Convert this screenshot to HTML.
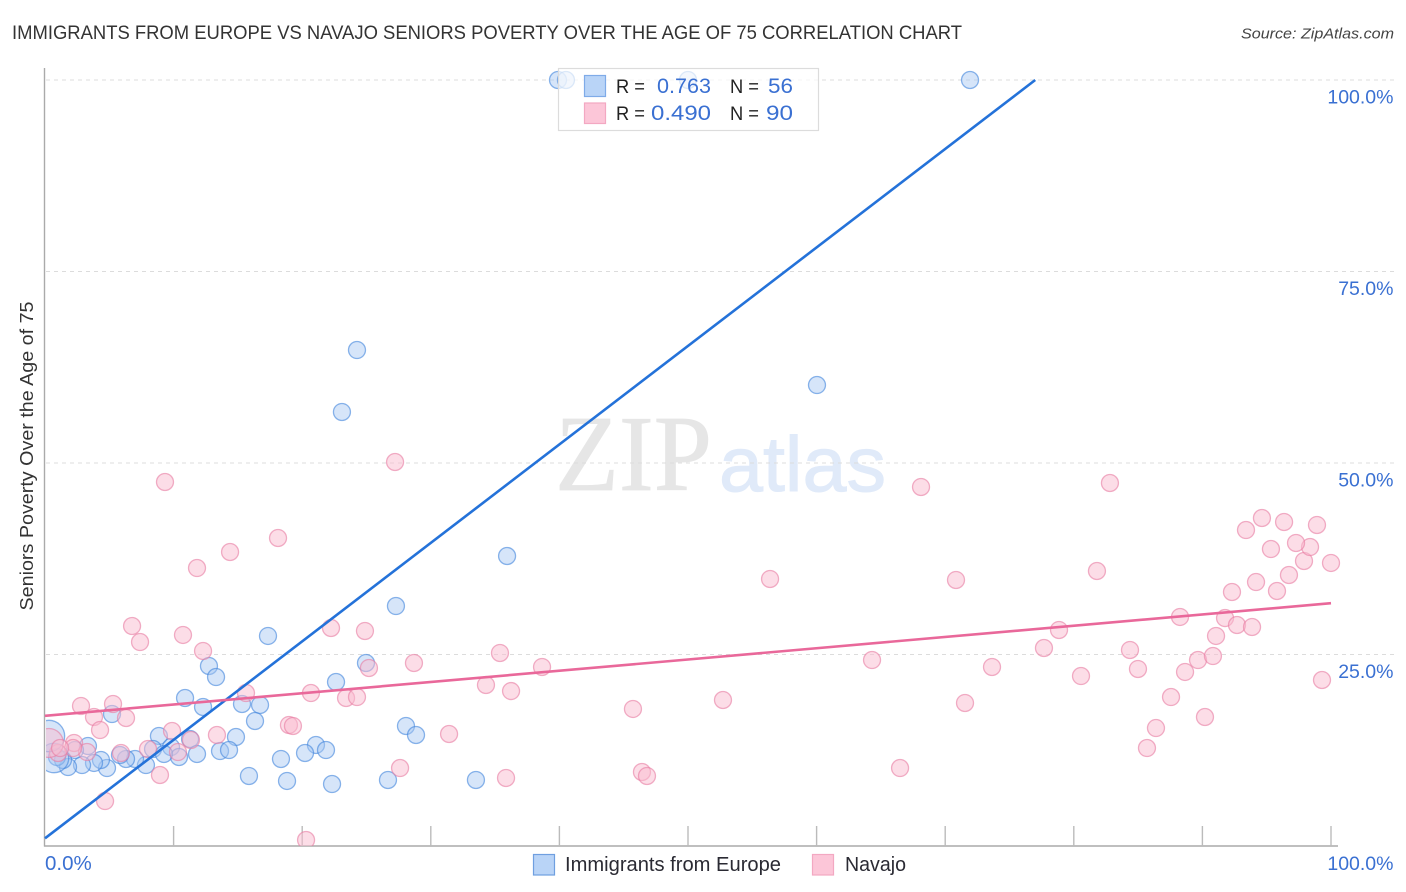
<!DOCTYPE html>
<html lang="en">
<head>
<meta charset="utf-8">
<title>Immigrants from Europe vs Navajo Seniors Poverty Correlation Chart</title>
<style>
html,body{margin:0;padding:0;background:#fff;}
svg{display:block;font-family:"Liberation Sans",sans-serif;}
</style>
</head>
<body>
<svg id="chart" xmlns="http://www.w3.org/2000/svg" width="1406" height="892" viewBox="0 0 1406 892">
  <defs>
    <clipPath id="plot-clip"><rect x="46" y="60" width="1300" height="786"></rect></clipPath>
  </defs>
  <text x="12" y="39" font-size="19.5" fill="#333" textLength="950" lengthAdjust="spacingAndGlyphs">IMMIGRANTS FROM EUROPE VS NAVAJO SENIORS POVERTY OVER THE AGE OF 75 CORRELATION CHART</text>
  <text x="1394" y="38.5" font-size="15" font-style="italic" fill="#444" text-anchor="end" textLength="153" lengthAdjust="spacingAndGlyphs">Source: ZipAtlas.com</text>

  <g id="watermark">
    <text x="555" y="490" font-family="'Liberation Serif',serif" font-size="108" fill="#e6e6e6" stroke="#e6e6e6" stroke-width="0.8" textLength="157" lengthAdjust="spacingAndGlyphs">ZIP</text>
    <text x="719" y="491" font-size="78" fill="#e0eaf9" stroke="#e0eaf9" stroke-width="1" textLength="167" lengthAdjust="spacingAndGlyphs">atlas</text>
  </g>

  <g id="grid"></g>
  <g id="axes"></g>
  <g id="points-blue" clip-path="url(#plot-clip)"></g>
  <g id="points-pink" clip-path="url(#plot-clip)"></g>
  <g id="trend-lines"></g>
  <g id="tick-labels"></g>

  <text transform="translate(33,456) rotate(-90)" font-size="18" fill="#333" text-anchor="middle" textLength="309" lengthAdjust="spacingAndGlyphs">Seniors Poverty Over the Age of 75</text>

  <g>
    <rect x="558.5" y="68.5" width="260" height="62" fill="#fff" fill-opacity="0.7" stroke="#dcdcdc" stroke-width="1.2"></rect>
    <rect x="584.5" y="75.5" width="21" height="21" fill="#b9d4f7" stroke="#7fabe8" stroke-width="1.2"></rect>
    <rect x="584.5" y="103" width="21" height="20.5" fill="#fcc6d8" stroke="#f3a8c2" stroke-width="1.2"></rect>
    <text x="616" y="93" font-size="19" fill="#222" textLength="29" lengthAdjust="spacingAndGlyphs">R =</text>
    <text x="657" y="93" font-size="21" fill="#3a70d2" textLength="54" lengthAdjust="spacingAndGlyphs">0.763</text>
    <text x="730" y="93" font-size="19" fill="#222" textLength="29" lengthAdjust="spacingAndGlyphs">N =</text>
    <text x="768" y="93" font-size="21" fill="#3a70d2" textLength="25" lengthAdjust="spacingAndGlyphs">56</text>
    <text x="616" y="120" font-size="19" fill="#222" textLength="29" lengthAdjust="spacingAndGlyphs">R =</text>
    <text x="651" y="120" font-size="21" fill="#3a70d2" textLength="60" lengthAdjust="spacingAndGlyphs">0.490</text>
    <text x="730" y="120" font-size="19" fill="#222" textLength="29" lengthAdjust="spacingAndGlyphs">N =</text>
    <text x="766" y="120" font-size="21" fill="#3a70d2" textLength="27" lengthAdjust="spacingAndGlyphs">90</text>
  </g>

  <g>
    <rect x="533.5" y="854.5" width="21" height="20.5" fill="#b9d4f7" stroke="#6f9fe0" stroke-width="1.2"></rect>
    <text x="565" y="871" font-size="20" fill="#2a2a33" textLength="216" lengthAdjust="spacingAndGlyphs">Immigrants from Europe</text>
    <rect x="812.5" y="854.5" width="21" height="20.5" fill="#fcc6d8" stroke="#f3a8c2" stroke-width="1.2"></rect>
    <text x="845" y="871" font-size="20" fill="#2a2a33" textLength="61" lengthAdjust="spacingAndGlyphs">Navajo</text>
  </g>
</svg>
<script>
const xTickValues = [10, 20, 30, 40, 50, 60, 70, 80, 90, 100];
const yTickValues = [25, 50, 75, 100];
const yTickLabels = ["25.0%", "50.0%", "75.0%", "100.0%"];
const xEdgeLabels = ["0.0%", "100.0%"];
const xEdgeValues = [0, 100];

const blueX = [39.89,40.51,50.0,71.93,24.26,23.09,60.03,35.93,27.29,17.34,24.96,22.63,12.75,13.30,10.89,12.29,15.32,16.72,16.33,5.21,28.07,28.85,8.86,14.85,11.28,9.80,8.40,3.34,21.07,21.85,20.22,18.35,13.61,14.31,11.82,10.42,9.25,7.85,7.00,6.30,5.83,4.82,4.35,3.81,2.88,2.33,1.79,1.40,0.93,0.70,0.31,15.86,18.82,22.32,26.67,33.51];
const blueY = [100,100,100,100,64.75,56.66,60.18,37.86,31.33,27.42,23.89,21.41,23.50,22.06,19.32,18.15,18.54,18.41,16.32,17.23,15.67,14.49,14.36,14.23,13.97,12.92,12.66,13.05,13.19,12.53,12.14,11.36,12.40,12.53,12.01,11.62,12.01,10.57,11.36,11.36,11.88,10.18,11.23,10.84,10.57,12.53,10.31,11.23,11.62,11.49,14.36,9.14,8.49,8.09,8.62,8.62];
const blueWeight = [1,1,1,1,1,1,1,1,1,1,1,1,1,1,1,1,1,1,1,1,1,1,1,1,1,1,1,1,1,1,1,1,1,1,1,1,1,1,1,1,1,1,1,1,1,1,1,1,1,3,3.4,1,1,1,1,1];

const pinkX = [27.22,9.33,18.12,14.39,11.82,6.77,7.39,10.73,12.29,22.24,24.88,28.69,35.38,25.19,38.65,34.29,20.68,23.41,24.26,36.24,45.72,52.72,31.42,27.61,35.85,46.42,46.81,20.30,68.12,82.81,56.38,70.84,81.80,64.31,73.64,71.54,66.49,78.85,77.68,80.56,84.37,84.99,87.56,86.39,85.69,90.20,88.65,89.66,90.82,88.26,91.06,91.76,92.69,93.86,92.30,94.17,95.80,96.73,97.90,98.37,97.28,95.33,93.39,94.63,96.35,98.91,100,99.30,2.80,5.29,3.81,6.30,4.28,2.26,9.88,15.63,13.37,18.97,19.28,5.91,8.01,10.34,11.35,8.94,4.67,3.27,2.18,1.01,0.30,1.17];
const pinkY = [50.13,47.52,40.21,38.38,36.29,28.72,26.63,27.55,25.46,28.46,28.07,23.89,25.20,23.24,23.37,21.02,19.97,19.32,19.45,20.23,17.89,19.06,14.62,10.18,8.88,9.66,9.14,0.78,46.87,47.39,34.86,34.73,35.90,24.28,23.37,18.67,10.18,28.20,25.85,22.19,25.59,23.11,19.45,15.40,12.79,16.84,22.72,24.28,24.80,29.90,27.42,29.76,28.85,28.59,33.16,34.46,33.29,35.38,37.21,39.03,39.56,38.77,41.25,42.82,42.30,41.91,36.95,21.67,18.28,18.54,16.84,16.71,15.14,13.45,15.01,19.97,14.49,15.80,15.67,12.14,12.66,12.27,13.84,9.27,5.87,12.27,12.79,12.14,13.45,12.79];
const pinkWeight = [1,1,1,1,1,1,1,1,1,1,1,1,1,1,1,1,1,1,1,1,1,1,1,1,1,1,1,1,1,1,1,1,1,1,1,1,1,1,1,1,1,1,1,1,1,1,1,1,1,1,1,1,1,1,1,1,1,1,1,1,1,1,1,1,1,1,1,1,1,1,1,1,1,1,1,1,1,1,1,1,1,1,1,1,1,1,1,1,2.9,1];

const blueTrendX = [0, 77];
const blueTrendY = [1, 100];
const pinkTrendX = [0, 100];
const pinkTrendY = [17, 31.7];

const NS = "http://www.w3.org/2000/svg";
const xScale = function (v) { return 45 + v * 12.86; };
const yScale = function (v) { return 846 - v * 7.66; };

function make(tag, parent, attrs) {
  const el = document.createElementNS(NS, tag);
  for (const k in attrs) el.setAttribute(k, attrs[k]);
  parent.appendChild(el);
  return el;
}

const grid = document.getElementById("grid");
yTickValues.forEach(function (v) {
  const line = make("line", grid, { x1: 46, x2: 1394, y1: yScale(v), y2: yScale(v), stroke: "#dcdcdc", "stroke-width": 1, "stroke-dasharray": "4 4" });
  
  
});

const axes = document.getElementById("axes");
const yAxis = make("line", axes, { x1: 44.5, x2: 44.5, y1: 68, y2: 846.5, stroke: "#aaa", "stroke-width": 1.4 });


const xAxis = make("line", axes, { x1: 44, x2: 1338, y1: 846, y2: 846, stroke: "#aaa", "stroke-width": 1.4 });


xTickValues.forEach(function (v) {
  const tick = make("line", axes, { x1: xScale(v), x2: xScale(v), y1: 826, y2: 846, stroke: "#bbb", "stroke-width": 1.4 });
  
  
});

const blueGroup = document.getElementById("points-blue");
blueX.forEach(function (v, i) {
  const c = make("circle", blueGroup, { cx: xScale(v), cy: yScale(blueY[i]), r: 8.5 * Math.sqrt(blueWeight[i]), fill: "#a5c6f2", "fill-opacity": 0.45, stroke: "#3f84dc", "stroke-opacity": 0.6, "stroke-width": 1.3 });
  
  
});

const pinkGroup = document.getElementById("points-pink");
pinkX.forEach(function (v, i) {
  const c = make("circle", pinkGroup, { cx: xScale(v), cy: yScale(pinkY[i]), r: 8.5 * Math.sqrt(pinkWeight[i]), fill: "#f9bcd0", "fill-opacity": 0.5, stroke: "#e77ba2", "stroke-opacity": 0.6, "stroke-width": 1.3 });
  
  
});

const trends = document.getElementById("trend-lines");
const blueTrend = make("line", trends, { x1: xScale(blueTrendX[0]), y1: yScale(blueTrendY[0]), x2: xScale(blueTrendX[1]), y2: yScale(blueTrendY[1]), stroke: "#2472d9", "stroke-width": 2.6 });


const pinkTrend = make("line", trends, { x1: xScale(pinkTrendX[0]), y1: yScale(pinkTrendY[0]), x2: xScale(pinkTrendX[1]), y2: yScale(pinkTrendY[1]), stroke: "#e9689a", "stroke-width": 2.6 });



const labels = document.getElementById("tick-labels");
yTickValues.forEach(function (v, i) {
  const t = make("text", labels, { x: 1393.5, y: yScale(v) + 23.5, "font-size": 19.5, fill: "#3a70d2", "text-anchor": "end" });
  
  
  t.textContent = yTickLabels[i];
});
xEdgeValues.forEach(function (v, i) {
  const t = make("text", labels, { x: i === 0 ? xScale(v) : 1393.5, y: 870, "font-size": i === 0 ? 20.5 : 19.5, fill: "#3a70d2", "text-anchor": i === 0 ? "start" : "end" });
  
  
  t.textContent = xEdgeLabels[i];
});
</script>
</body>
</html>
